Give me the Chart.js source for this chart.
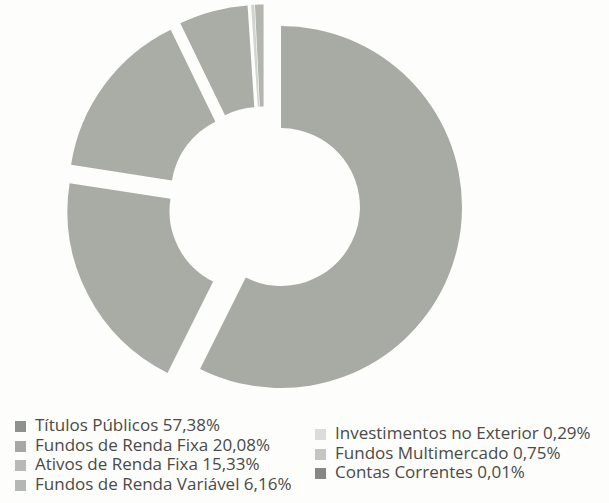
<!DOCTYPE html>
<html>
<head>
<meta charset="utf-8">
<script src="https://cdn.jsdelivr.net/npm/chart.js@4"></script>
<style>
  body { margin: 0; background: #fdfdfb; width: 609px; height: 503px; overflow: hidden; position: relative; font-family: "Open Sans", sans-serif; }
  #wrap { position: absolute; left: 0; top: 0; width: 528px; height: 406px; }
  .col { position: absolute; }
  .item { height: 19.5px; line-height: 19.5px; font-size: 17px; color: #4a4a48; white-space: nowrap; }
  .item span.box { display: inline-block; width: 11px; height: 11px; margin-right: 9px; vertical-align: -1px; }
</style>
</head>
<body>
<div id="wrap"><canvas id="chart"></canvas></div>
<div class="col" id="legLeft" style="left:15px; top:415px;"></div>
<div class="col" id="legRight" style="left:315px; top:423px;"></div>
<script>
// categories and shares (%) in drawing order, clockwise from 12 o'clock
const labels = [
  "Títulos Públicos",
  "Fundos de Renda Fixa",
  "Ativos de Renda Fixa",
  "Fundos de Renda Variável",
  "Investimentos no Exterior",
  "Fundos Multimercado",
  "Contas Correntes"
];
const shares = [57.38, 20.08, 15.33, 6.16, 0.29, 0.75, 0.01];
const shareText = ["57,38%", "20,08%", "15,33%", "6,16%", "0,29%", "0,75%", "0,01%"];

// slice colours as printed, legend swatches as printed
const sliceColors = ["#a8aba4", "#a9aca5", "#aaada6", "#aaada6", "#d2d4cf", "#b3b6af", "#8e918b"];
const swatchColors = ["#8e918c", "#a6a8a3", "#b8bab5", "#b5b7b2", "#dcdddb", "#c5c6c3", "#868883"];

// every slice is pulled out of the centre by the same distance (px)
const explode = 17.5;

// chart.js "offset" also grows the radius of each arc, so shift the arcs ourselves
const explodePlugin = {
  id: "explode",
  afterDatasetUpdate(chart, args) {
    args.meta.data.forEach((arc) => {
      const mid = (arc.startAngle + arc.endAngle) / 2;
      arc.x += Math.cos(mid) * explode;
      arc.y += Math.sin(mid) * explode;
    });
  }
};

new Chart(document.getElementById("chart"), {
  type: "doughnut",
  data: {
    labels: labels,
    datasets: [{
      data: shares,
      backgroundColor: sliceColors,
      borderWidth: 0,
      hoverOffset: 0
    }]
  },
  options: {
    responsive: true,
    maintainAspectRatio: false,
    animation: false,
    radius: 181,
    cutout: "43.6%",
    layout: { padding: 0 },
    events: [],
    plugins: {
      legend: { display: false },
      tooltip: { enabled: false }
    }
  },
  plugins: [explodePlugin]
});

// legend in two columns, like the printed report
function addItem(target, i) {
  const div = document.createElement("div");
  div.className = "item";
  const box = document.createElement("span");
  box.className = "box";
  box.style.background = swatchColors[i];
  div.appendChild(box);
  div.appendChild(document.createTextNode(labels[i] + " " + shareText[i]));
  target.appendChild(div);
}
const left = document.getElementById("legLeft");
const right = document.getElementById("legRight");
for (let i = 0; i < 4; i++) addItem(left, i);
for (let i = 4; i < labels.length; i++) addItem(right, i);
</script>
</body>
</html>
